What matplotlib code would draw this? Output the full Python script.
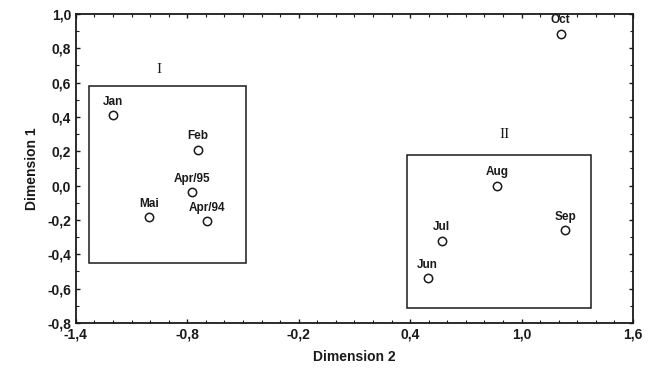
import matplotlib
matplotlib.use("Agg")
import matplotlib.pyplot as plt
from matplotlib.ticker import MultipleLocator, FixedLocator, FuncFormatter
from matplotlib.patches import Rectangle

# month positions on the two dimensions
months = ["Jan", "Feb", "Apr/95", "Mai", "Apr/94", "Oct", "Aug", "Sep", "Jul", "Jun"]
dim2 = [-1.20, -0.745, -0.775, -1.005, -0.695, 1.21, 0.87, 1.235, 0.57, 0.495]
dim1 = [0.41, 0.21, -0.04, -0.185, -0.205, 0.885, 0.0, -0.26, -0.32, -0.54]

# group boxes: (x0, y0, x1, y1) and label
groups = ["I", "II"]
group_boxes = [(-1.33, -0.448, -0.485, 0.58), (0.385, -0.715, 1.375, 0.18)]
group_label_pos = [(-0.95, 0.675), (0.91, 0.295)]

xticks = [-1.4, -0.8, -0.2, 0.4, 1.0, 1.6]
yticks = [-0.8, -0.6, -0.4, -0.2, 0.0, 0.2, 0.4, 0.6, 0.8, 1.0]

plt.rcParams['font.family'] = ['Liberation Sans', 'DejaVu Sans']
ink = '#1a1a1a'

fig = plt.figure(figsize=(6.6, 3.76), dpi=100)
ax = fig.add_axes([0.115, 0.141, 0.844, 0.822])

ax.plot(dim2, dim1, linestyle='none', marker='o', markersize=6,
        markerfacecolor='white', markeredgecolor=ink, markeredgewidth=1.1, zorder=3)
for name, x, y in zip(months, dim2, dim1):
    ax.annotate(name, (x, y), xytext=(0, 9.5), textcoords='offset points',
                ha='center', va='center', fontsize=8.5, fontweight='bold', color=ink)

for g, (x0, y0, x1, y1), (lx, ly) in zip(groups, group_boxes, group_label_pos):
    ax.add_patch(Rectangle((x0, y0), x1 - x0, y1 - y0, fill=False,
                           edgecolor=ink, linewidth=1.1))
    ax.text(lx, ly, g, ha='center', va='center', fontsize=11,
            family='Liberation Serif', color=ink)

ax.set_xlim(-1.4, 1.6)
ax.set_ylim(-0.8, 1.0)
ax.xaxis.set_major_locator(FixedLocator(xticks))
ax.xaxis.set_minor_locator(MultipleLocator(0.1))
ax.yaxis.set_major_locator(FixedLocator(yticks))
ax.yaxis.set_minor_locator(MultipleLocator(0.1))
comma = FuncFormatter(lambda v, p: f"{v:.1f}".replace('.', ',').replace('-0,0', '0,0'))
ax.xaxis.set_major_formatter(comma)
ax.yaxis.set_major_formatter(comma)
ax.tick_params(which='both', direction='in', top=True, right=True, colors=ink)
ax.tick_params(which='major', length=3, width=1, labelsize=10)
ax.tick_params(which='minor', length=2, width=0.8)
for lbl in ax.get_xticklabels() + ax.get_yticklabels():
    lbl.set_fontweight('bold')
for s in ax.spines.values():
    s.set_linewidth(1.3)
    s.set_color(ink)

ax.set_xlabel("Dimension 2", fontsize=10, fontweight='bold', color=ink, labelpad=6)
ax.set_ylabel("Dimension 1", fontsize=10, fontweight='bold', color=ink, labelpad=6)

fig.savefig("out.png", dpi=100)
